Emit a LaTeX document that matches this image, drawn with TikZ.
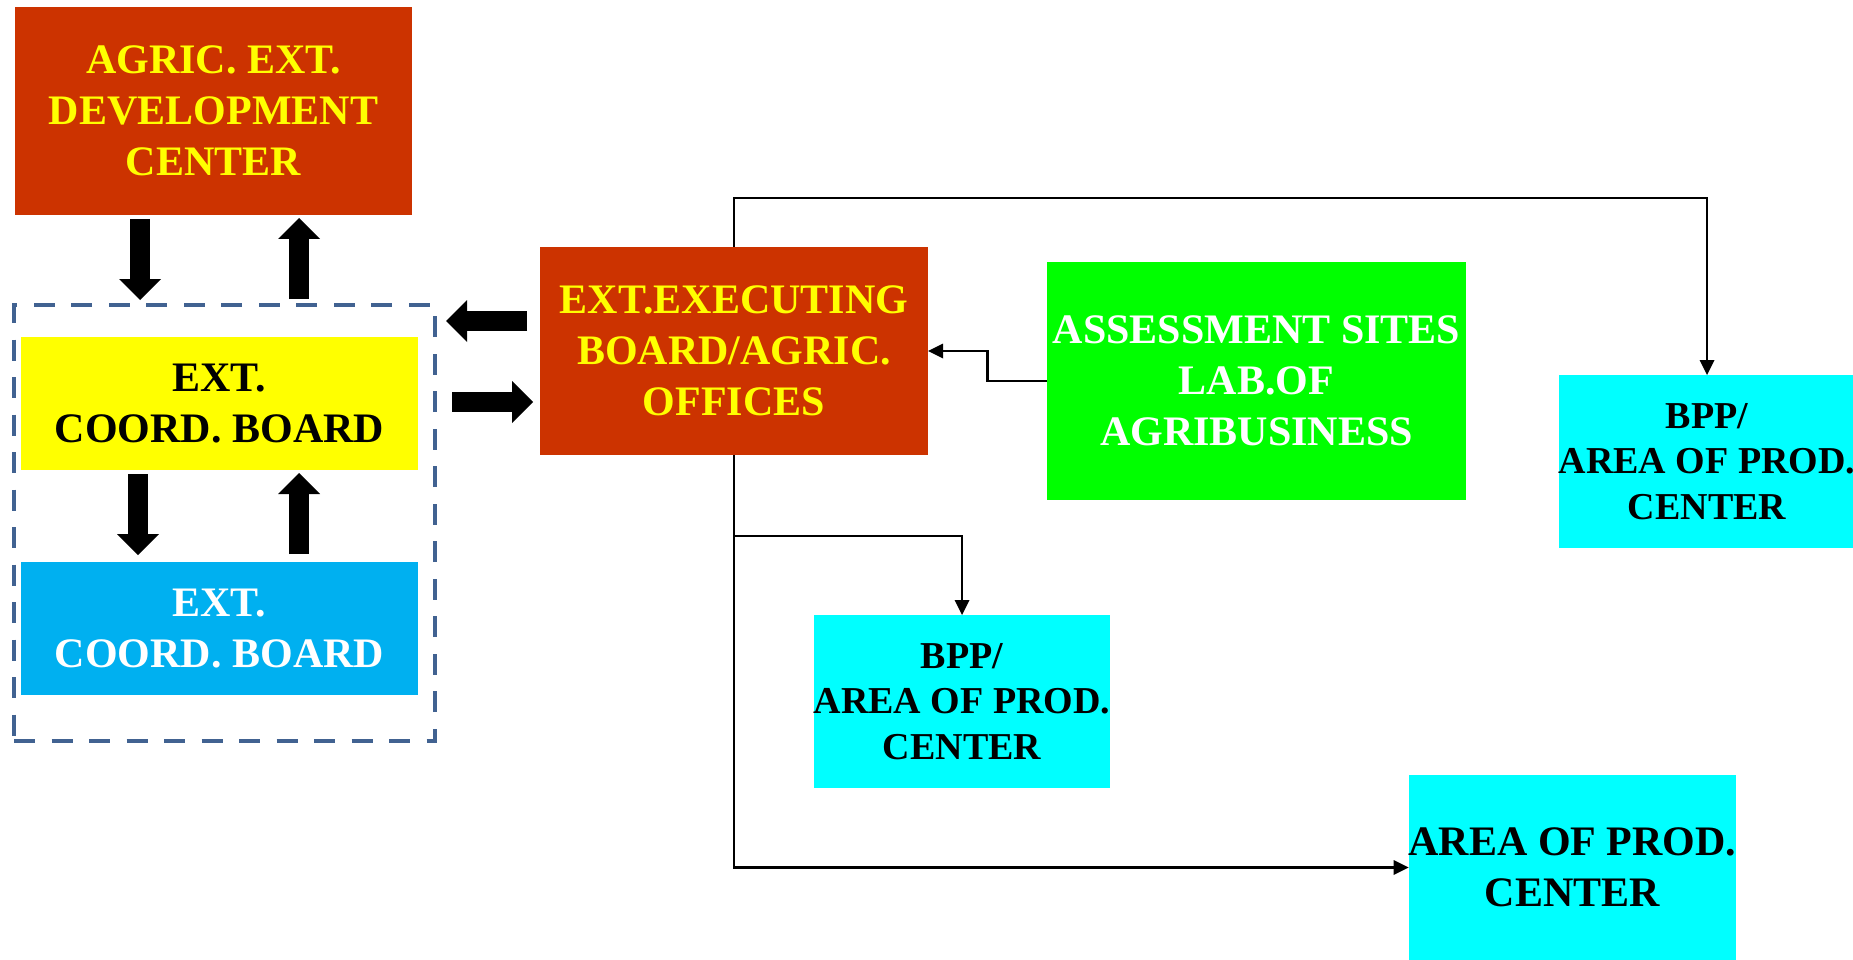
\documentclass[tikz,border=0pt]{standalone}
\usepackage{fontspec}
\setmainfont{Liberation Serif}
\usetikzlibrary{arrows.meta,calc}

\definecolor{brickred}{RGB}{204,51,0}
\definecolor{signalyellow}{RGB}{255,255,0}
\definecolor{skyblue}{RGB}{0,176,240}
\definecolor{limegreen}{RGB}{0,255,0}
\definecolor{aqua}{RGB}{0,255,255}
\definecolor{framegray}{RGB}{65,98,145}

\begin{document}
\begin{tikzpicture}[x=1pt,y=-1pt,
  box/.style={inner sep=0pt, outer sep=0pt, align=center,
    font=\bfseries\fontsize{42}{51}\selectfont},
  smallbox/.style={box, font=\bfseries\fontsize{38}{45.5}\selectfont},
  blockarrow/.style={line width=20pt,
    -{Triangle[length=21pt,width=42pt,line width=0pt]}},
  link/.style={line width=2.2pt,
    -{Triangle[length=15pt,width=15pt,line width=0pt]}}]

\useasboundingbox (0,0) rectangle (1853,960);

% ------------------- Linke Seite -------------------
\node[box, fill=brickred, text=signalyellow,
  minimum width=397pt, minimum height=208pt] (agric) at (213.5,111)
  {AGRIC. EXT.\\DEVELOPMENT\\CENTER};

\node[draw=framegray, line width=4.3pt, dash pattern=on 21pt off 16.5pt,
  inner sep=0pt, outer sep=0pt,
  minimum width=421pt, minimum height=436pt] (frame) at (224.5,523) {};

\node[box, fill=signalyellow, text=black,
  minimum width=397pt, minimum height=133pt] (coord) at (219.5,403.5)
  {EXT.\\COORD. BOARD};
\node[box, fill=skyblue, text=white,
  minimum width=397pt, minimum height=133pt] (coordb) at (219.5,628.5)
  {EXT.\\COORD. BOARD};

% ------------------- Rechte Seite -------------------
\node[box, fill=brickred, text=signalyellow,
  minimum width=388pt, minimum height=208pt] (exec) at (734,351)
  {EXT.EXECUTING\\BOARD/AGRIC.\\OFFICES};

\node[box, fill=limegreen, text=white,
  minimum width=419pt, minimum height=238pt] (assess) at (1256.5,381)
  {ASSESSMENT SITES\\LAB.OF\\AGRIBUSINESS};

\node[smallbox, fill=aqua, text=black,
  minimum width=292pt, minimum height=173pt] (bppright) at (1707,461.5)
  {BPP/\\AREA OF PROD.\\CENTER};
\node[smallbox, fill=aqua, text=black,
  minimum width=294pt, minimum height=173pt] (bppmid) at (962,701.5)
  {BPP/\\AREA OF PROD.\\CENTER};
\node[box, fill=aqua, text=black,
  minimum width=325pt, minimum height=185pt] (prodarea) at (1572.5,867.5)
  {AREA OF PROD.\\CENTER};

% Blockpfeile
\draw[blockarrow] ($(agric.south west)+(125,4)$) -- ($(frame.north west)+(126,-5)$);
\draw[blockarrow] ($(frame.north west)+(285,-6)$) -- ($(agric.south west)+(284,3)$);
\draw[blockarrow] ($(coord.south west)+(117,4)$) -- ($(coordb.north west)+(117,-7)$);
\draw[blockarrow] ($(coordb.north west)+(278,-8)$) -- ($(coord.south west)+(278,3)$);
\draw[blockarrow] ($(exec.north west)+(-13,74)$) -- ($(frame.north east)+(11,16)$);
\draw[blockarrow] ($(frame.north east)+(17,97)$) -- ($(exec.north west)+(-7,155)$);

% Verbindungen
\coordinate (branch) at ($(exec.south)+(0,81)$);
\draw[link] (exec.north) -- ++(0,-49) -| (bppright.north);
\draw[link] (exec.south) |- (prodarea.west);
\draw[link] (branch) -| (bppmid.north);
\draw[link] (assess.west) -| ($(assess.west)!.5!(exec.east)$) |- (exec.east);

\end{tikzpicture}
\end{document}
